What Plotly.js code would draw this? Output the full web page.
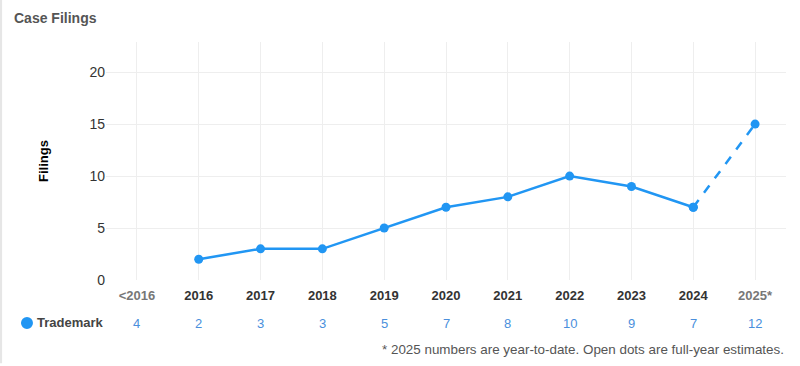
<!DOCTYPE html>
<html>
<head>
<meta charset="utf-8">
<script src="https://cdn.plot.ly/plotly-3.0.1.min.js"></script>
<style>html,body{margin:0;padding:0;background:#fff;}#chart{width:800px;height:366px;}</style>
</head>
<body>
<div id="chart"></div>
<script>
const categories = ["<2016","2016","2017","2018","2019","2020","2021","2022","2023","2024","2025*"];
const tickLabels = ["&lt;2016","2016","2017","2018","2019","2020","2021","2022","2023","2024","2025*"];
const actualCats = ["2016","2017","2018","2019","2020","2021","2022","2023","2024"];
const actualVals = [2,3,3,5,7,8,10,9,7];
const estimateCats = ["2024","2025*"];
const estimateVals = [7,15];
const tableValues = [4,2,3,3,5,7,8,10,9,7,12];
const seriesName = "Trademark";

const blue = "#2196F3";
const font = "Liberation Sans, Arial, sans-serif";

const tickText = tickLabels.map((t,i) => (i===0 || i===tickLabels.length-1) ? '<span style="color:#777">'+t+'</span>' : t);

const annotations = [];
categories.forEach((c,i) => {
  annotations.push({xref:'x', yref:'paper', x:i, y:-0.182, yanchor:'middle', text:String(tableValues[i]),
    showarrow:false, font:{family:font, size:13, color:'#4a8fdc'}});
});
annotations.push({xref:'paper', yref:'paper', x:-0.1044, y:-0.18, xanchor:'left', yanchor:'middle',
  text:'<b>'+seriesName+'</b>', showarrow:false,
  font:{family:font, size:13, color:'#444'}});
annotations.push({xref:'paper', yref:'paper', x:1.0, y:-0.29, xanchor:'right', yanchor:'middle',
  text:'* 2025 numbers are year-to-date. Open dots are full-year estimates.', showarrow:false,
  font:{family:font, size:13.4, color:'#555'}});

const traces = [
  {x:actualCats, y:actualVals, type:'scatter', mode:'lines+markers', name:seriesName,
   line:{color:blue, width:2.5}, marker:{color:blue, size:9}, hoverinfo:'x+y'},
  {x:estimateCats, y:estimateVals, type:'scatter', mode:'lines+markers', name:seriesName+' est.',
   line:{color:blue, width:2.5, dash:'dash'}, marker:{color:blue, size:9}, hoverinfo:'x+y'}
];

const layout = {
  width:800, height:366,
  margin:{l:106, r:14, t:42, b:86},
  paper_bgcolor:'#fff', plot_bgcolor:'#fff',
  showlegend:false,
  title:{text:'<b>Case Filings</b>', x:0.0175, xanchor:'left', y:0.95, yanchor:'middle', font:{family:font, size:14, color:'#555'}},
  xaxis:{type:'category', categoryorder:'array', categoryarray:categories, range:[-0.5,10.5],
    tickmode:'array', tickvals:categories, ticktext:tickText,
    tickfont:{family:font, size:13, color:'#333', weight:'bold'},
    showgrid:true, gridcolor:'#eeeeee', zeroline:false, showline:false, ticks:'', ticklabelstandoff:6, fixedrange:true},
  yaxis:{range:[0,22.9], tickvals:[0,5,10,15,20], showgrid:true, gridcolor:'#eeeeee', zeroline:false,
    tickfont:{family:font, size:14, color:'#333'}, ticks:'', ticklabelstandoff:0,
    title:{text:'<b>Filings</b>', font:{family:font, size:13, color:'#000'}, standoff:37}, automargin:false},
  annotations:annotations,
  shapes:[
    {type:'line', xref:'paper', yref:'paper', x0:-0.155, x1:-0.155, y0:-0.35, y1:1.2, line:{color:'#e6e6e6', width:3}},
    {type:'circle', xref:'paper', yref:'paper', x0:-0.125, x1:-0.1074, y0:-0.2059, y1:-0.1555, fillcolor:blue, line:{width:0}}
  ]
};

Plotly.newPlot('chart', traces, layout, {displayModeBar:false, staticPlot:true});
</script>
</body>
</html>
